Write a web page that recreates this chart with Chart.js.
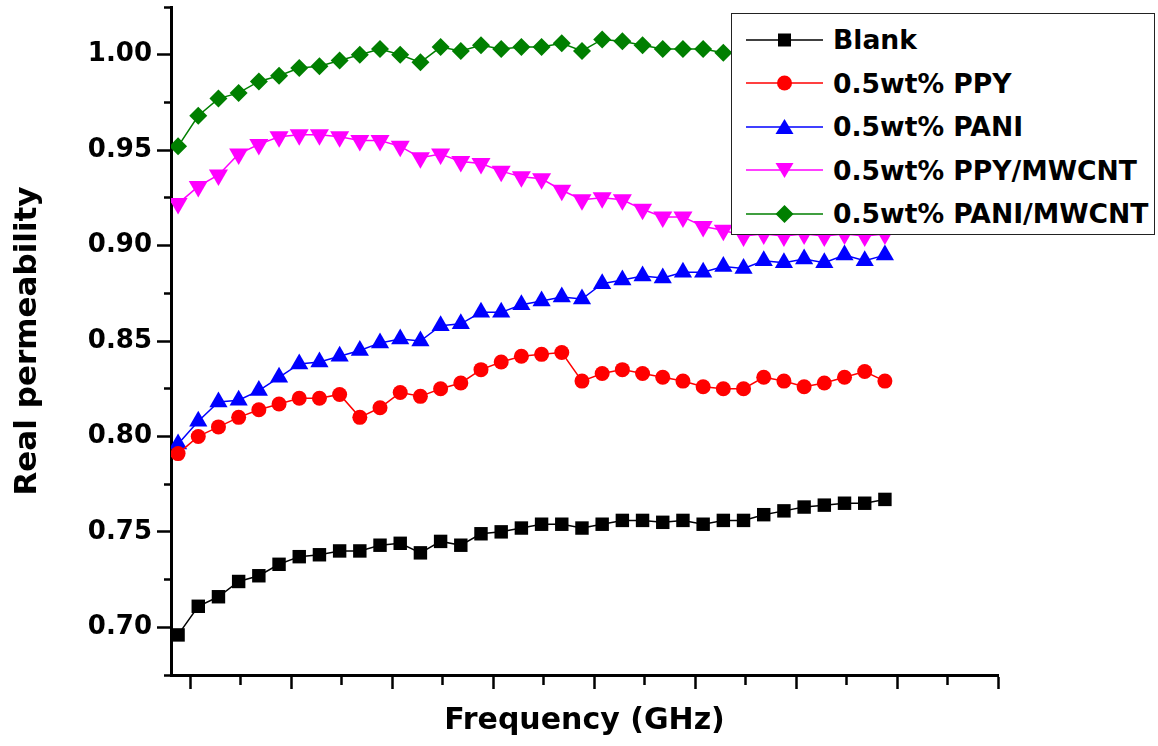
<!DOCTYPE html>
<html>
<head>
<meta charset="utf-8">
<script src="https://cdn.jsdelivr.net/npm/chart.js@4.4.1/dist/chart.umd.min.js"></script>
<style>
  body { margin: 0; background: #fff; }
  #wrap { position: relative; width: 1158px; height: 746px; }
  #legend {
    position: absolute; left: 731px; top: 13px; width: 422px; height: 216px;
    border: 1.5px solid #222; background: #fff; padding-top: 4px;
    font-family: "DejaVu Sans", sans-serif; font-weight: bold; font-size: 26.6px; color: #000;
  }
  .row { display: flex; align-items: center; height: 43.5px; }
  .row svg { margin-left: 14px; margin-right: 10px; }
</style>
</head>
<body>
<div id="wrap">
  <canvas id="chart" width="1158" height="746"></canvas>
  <div id="legend"></div>
</div>
<script>
const freq = [0.88, 1.08, 1.28, 1.48, 1.68, 1.88, 2.08, 2.28, 2.48, 2.68, 2.88, 3.08, 3.28, 3.48, 3.68, 3.88, 4.08, 4.28,
              4.48, 4.68, 4.88, 5.08, 5.28, 5.48, 5.68, 5.88, 6.08, 6.28, 6.48, 6.68, 6.88, 7.08, 7.28, 7.48, 7.68, 7.88];

const blank = [0.696, 0.711, 0.716, 0.724, 0.727, 0.733, 0.737, 0.738, 0.740, 0.740, 0.743, 0.744, 0.739, 0.745, 0.743, 0.749, 0.750, 0.752,
               0.754, 0.754, 0.752, 0.754, 0.756, 0.756, 0.755, 0.756, 0.754, 0.756, 0.756, 0.759, 0.761, 0.763, 0.764, 0.765, 0.765, 0.767];
const ppy = [0.791, 0.800, 0.805, 0.810, 0.814, 0.817, 0.820, 0.820, 0.822, 0.810, 0.815, 0.823, 0.821, 0.825, 0.828, 0.835, 0.839, 0.842,
             0.843, 0.844, 0.829, 0.833, 0.835, 0.833, 0.831, 0.829, 0.826, 0.825, 0.825, 0.831, 0.829, 0.826, 0.828, 0.831, 0.834, 0.829];
const pani = [0.796, 0.808, 0.818, 0.819, 0.824, 0.831, 0.838, 0.839, 0.842, 0.845, 0.849, 0.851, 0.850, 0.858, 0.859, 0.865, 0.865, 0.869,
              0.871, 0.873, 0.872, 0.880, 0.882, 0.884, 0.883, 0.886, 0.886, 0.889, 0.888, 0.892, 0.891, 0.893, 0.891, 0.895, 0.892, 0.895];
const ppyMwcnt = [0.922, 0.931, 0.937, 0.948, 0.953, 0.957, 0.958, 0.958, 0.957, 0.955, 0.955, 0.952, 0.946, 0.948, 0.944, 0.943, 0.939, 0.936,
                  0.935, 0.929, 0.924, 0.925, 0.924, 0.919, 0.915, 0.915, 0.910, 0.908, 0.905, 0.906, 0.905, 0.906, 0.905, 0.906, 0.905, 0.906];
const paniMwcnt = [0.952, 0.968, 0.977, 0.980, 0.986, 0.989, 0.993, 0.994, 0.997, 1.000, 1.003, 1.000, 0.996, 1.004, 1.002, 1.005, 1.003, 1.004,
                   1.004, 1.006, 1.002, 1.008, 1.007, 1.005, 1.003, 1.003, 1.003, 1.001, 1.002, 1.003, 1.002, 1.003, 1.004, 1.003, 1.004, 1.005];

const seriesNames = ['Blank', '0.5wt% PPY', '0.5wt% PANI', '0.5wt% PPY/MWCNT', '0.5wt% PANI/MWCNT'];
const seriesValues = [blank, ppy, pani, ppyMwcnt, paniMwcnt];
const seriesColors = ['#000000', '#ff0000', '#0000ff', '#ff00ff', '#007f00'];
const seriesShapes = ['rect', 'circle', 'triangle', 'triangle', 'rectRot'];
const seriesRotation = [0, 0, 0, 180, 0];
const seriesRadius = [9.5, 7.5, 10.5, 11, 9];

const datasets = seriesValues.map((vals, i) => ({
  label: seriesNames[i],
  data: vals.map((v, j) => ({ x: freq[j], y: v })),
  borderColor: seriesColors[i],
  backgroundColor: seriesColors[i],
  borderWidth: 1.5,
  pointStyle: seriesShapes[i],
  pointRotation: seriesRotation[i],
  pointRadius: seriesRadius[i],
  pointBorderWidth: 0,
  tension: 0
}));

const isMult = (v, step) => Math.abs(v / step - Math.round(v / step)) < 1e-6;

new Chart(document.getElementById('chart'), {
  type: 'line',
  data: { datasets: datasets },
  options: {
    responsive: false,
    animation: false,
    devicePixelRatio: 1,
    layout: { autoPadding: false, padding: { top: 7, right: 160, left: 0, bottom: 0 } },
    plugins: { legend: { display: false }, tooltip: { enabled: false } },
    scales: {
      x: {
        type: 'linear',
        min: 0.81, max: 9,
        border: { display: true, color: '#000', width: 3 },
        grid: {
          drawOnChartArea: false,
          tickLength: 14,
          tickColor: '#000',
          tickWidth: 2.5,
          tickBorderDash: ctx => isMult(ctx.tick.value, 1) ? [] : [8, 40]
        },
        ticks: { stepSize: 0.5, includeBounds: false, autoSkip: false, display: false },
        title: {
          display: true, text: 'Frequency (GHz)', color: '#000',
          font: { family: 'DejaVu Sans', size: 30, weight: 'bold' },
          padding: { top: 0, bottom: 7 }
        },
        afterFit: s => { s.height = 71; s.paddingLeft = 0; s.paddingRight = 0; }
      },
      y: {
        min: 0.675, max: 1.025,
        border: { display: true, color: '#000', width: 3 },
        grid: {
          drawOnChartArea: false,
          tickLength: 14,
          tickColor: '#000',
          tickWidth: 2.5,
          tickBorderDash: ctx => isMult(ctx.tick.value, 0.05) ? [] : [0, 7, 8, 40]
        },
        ticks: {
          stepSize: 0.025, includeBounds: false, autoSkip: false, color: '#000', padding: 5,
          font: { family: 'DejaVu Sans', size: 26, weight: 'bold' },
          callback: v => isMult(v, 0.05) ? v.toFixed(2) : ''
        },
        title: {
          display: true, text: 'Real permeability', color: '#000',
          font: { family: 'DejaVu Sans', size: 31, weight: 'bold' },
          padding: { top: 9, bottom: 0 }
        },
        afterFit: s => { s.width = 171; s.paddingTop = 0; s.paddingBottom = 0; }
      }
    }
  }
});

// legend drawn as html, boxed over the plot like the original
function markerSvg(i) {
  const c = seriesColors[i];
  let m = '';
  if (seriesShapes[i] === 'rect') m = `<rect x="32" y="5.5" width="13" height="13" fill="${c}"/>`;
  else if (seriesShapes[i] === 'circle') m = `<circle cx="38.5" cy="12" r="7.5" fill="${c}"/>`;
  else if (seriesShapes[i] === 'rectRot') m = `<polygon points="38.5,3 47.5,12 38.5,21 29.5,12" fill="${c}"/>`;
  else if (seriesRotation[i] === 180) m = `<polygon points="29.5,5 47.5,5 38.5,20" fill="${c}"/>`;
  else m = `<polygon points="38.5,4 47.5,19 29.5,19" fill="${c}"/>`;
  return `<svg width="77" height="24"><line x1="0" y1="12" x2="77" y2="12" stroke="${c}" stroke-width="1.5"/>${m}</svg>`;
}
document.getElementById('legend').innerHTML = seriesNames
  .map((n, i) => `<div class="row">${markerSvg(i)}<span>${n}</span></div>`).join('');
</script>
</body>
</html>
